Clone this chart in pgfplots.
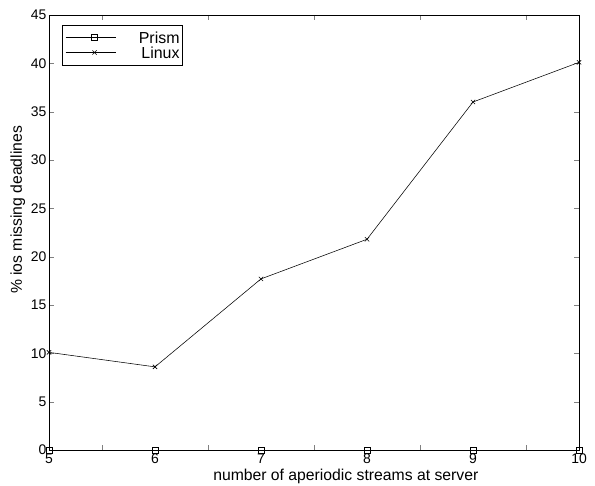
\documentclass[border=0pt]{standalone}
\usepackage{pgfplots}
\pgfplotsset{compat=1.18}
\usepackage{fontspec}
\setmainfont{Liberation Sans}
\begin{document}
\begin{tikzpicture}
\begin{axis}[
  scale only axis,
  width=530bp, height=435bp,
  xmin=5, xmax=10, ymin=0, ymax=45,
  xtick={5,6,7,8,9,10},
  ytick={0,5,...,45},
  minor xtick={5.5,6.5,7.5,8.5,9.5},
  major x tick style={draw=none},
  tick align=inside,
  major tick length=5bp, minor tick length=5bp,
  /pgf/number format/assume math mode=true,
  tick label style={font=\fontsize{14}{16}\selectfont},
  xticklabel style={yshift=0bp},
  yticklabel style={xshift=1bp},
  xlabel={number of aperiodic streams at server},
  ylabel={\% ios missing deadlines},
  label style={font=\fontsize{15.8}{18}\selectfont},
  xlabel style={at={(ticklabel cs:0.56)}, anchor=north, yshift=1bp},
  ylabel style={at={(ticklabel cs:0.552)}, anchor=south, yshift=-1bp},
  axis line style={line width=0.8pt},
  clip=false,
  legend style={at={(0.0245,0.977)}, anchor=north west, draw=black, line width=0.6pt,
    font=\fontsize{16}{16}\selectfont, row sep=3bp, inner xsep=3bp, inner ysep=6.5bp,
    nodes={inner sep=0pt, text height=11.8bp, text depth=0bp},
    /tikz/every odd column/.append style={column sep=23bp}},
  legend cell align=right,
  legend image code/.code={\path (0bp,0bp) -- (49bp,0bp); \draw[#1] (8bp,0bp) -- (50bp,0bp); \draw[#1, only marks] plot coordinates {(29bp,0bp)};},
]
\addplot[black, line width=0.55pt, mark=square, mark size=3bp] coordinates {(5,0) (6,0) (7,0) (8,0) (9,0) (10,0)};
\addlegendentry{Prism}
\addplot[black, line width=0.55pt, mark=x, mark size=3bp] coordinates {(5,10.1) (6,8.6) (7,17.7) (8,21.8) (9,36.0) (10,40.1)};
\addlegendentry{Linux}
\end{axis}
\pgfresetboundingbox
\path ([xshift=-49bp,yshift=-35bp]current axis.south west) rectangle ([xshift=16bp,yshift=15bp]current axis.north east);
\end{tikzpicture}
\end{document}
